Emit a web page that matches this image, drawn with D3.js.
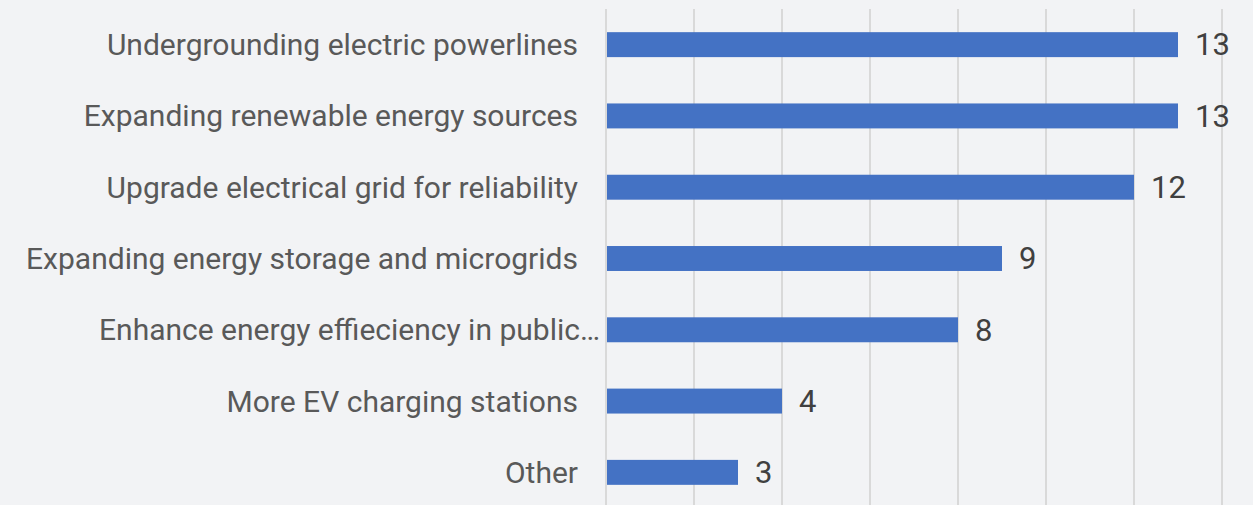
<!DOCTYPE html>
<html>
<head>
<meta charset="utf-8">
<script src="https://cdn.jsdelivr.net/npm/d3@7"></script>
<style>
  html, body { margin: 0; padding: 0; background: #f2f3f5; }
  svg { display: block; }
</style>
</head>
<body>
<div id="chart"></div>
<script>
var categories = [
  'Undergrounding electric powerlines',
  'Expanding renewable energy sources',
  'Upgrade electrical grid for reliability',
  'Expanding energy storage and microgrids',
  'Enhance energy effieciency in public\u2026',
  'More EV charging stations',
  'Other'
];
var values = [13, 13, 12, 9, 8, 4, 3];
var gridTicks = [0, 2, 4, 6, 8, 10, 12, 14];

var width = 1253, height = 505;

var svg = d3.select('#chart').append('svg')
  .attr('width', width)
  .attr('height', height);

svg.append('rect').attr('width', width).attr('height', height).attr('fill', '#f2f3f5');

var x = d3.scaleLinear().domain([0, 14]).range([606, 1222]);
var y = d3.scaleBand().domain(categories).range([9, 508]).paddingInner(0.65).paddingOuter(0.325);

// gridlines
svg.append('g').selectAll('line')
  .data(gridTicks)
  .enter().append('line')
  .attr('x1', function (d) { return x(d); })
  .attr('x2', function (d) { return x(d); })
  .attr('y1', 9)
  .attr('y2', height)
  .attr('stroke', '#d9d9d9')
  .attr('stroke-width', 2);

// bars
svg.append('g').selectAll('rect')
  .data(values)
  .enter().append('rect')
  .attr('x', x(0) + 1)
  .attr('y', function (d, i) { return y(categories[i]); })
  .attr('width', function (d) { return x(d) - x(0) - 1; })
  .attr('height', y.bandwidth())
  .attr('fill', '#4472c4');

// category labels
svg.append('g').selectAll('text')
  .data(categories)
  .enter().append('text')
  .attr('x', function (d) { return d.slice(-1) === '\u2026' ? 600 : 578; })
  .attr('y', function (d) { return y(d) + y.bandwidth() / 2; })
  .attr('dy', '0.35em')
  .attr('text-anchor', 'end')
  .attr('font-family', 'Roboto, sans-serif')
  .attr('font-size', 30)
  .attr('fill', '#595959')
  .text(function (d) { return d; });

// value labels
svg.append('g').selectAll('text')
  .data(values)
  .enter().append('text')
  .attr('x', function (d) { return x(d) + 17; })
  .attr('y', function (d, i) { return y(categories[i]) + y.bandwidth() / 2; })
  .attr('dy', '0.35em')
  .attr('font-family', 'Roboto, sans-serif')
  .attr('font-size', 31)
  .attr('fill', '#404040')
  .text(function (d) { return d; });
</script>
</body>
</html>
